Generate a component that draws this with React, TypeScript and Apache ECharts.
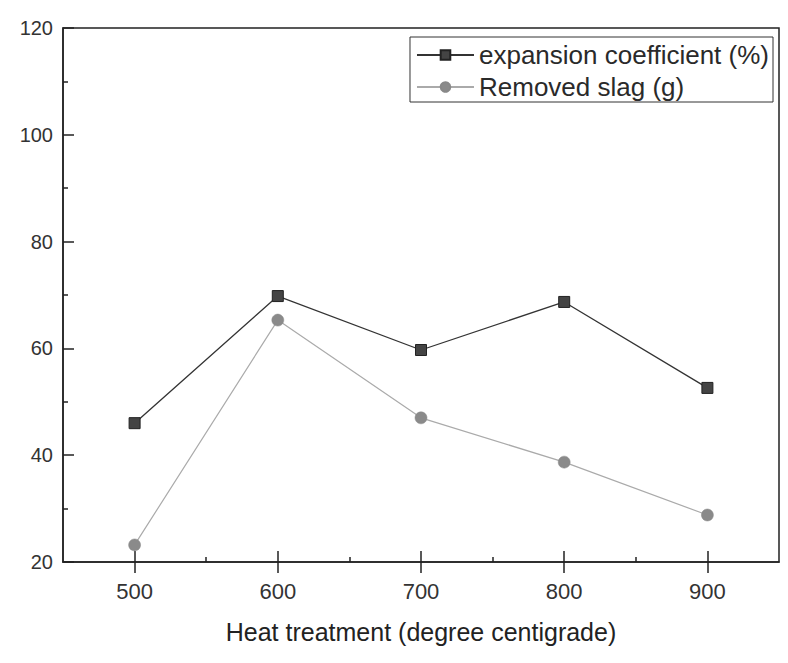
import React, { useEffect, useRef } from "react";
import * as echarts from "echarts";

const temperatures = [500, 600, 700, 800, 900];
const expansionCoefficient = [46.0, 69.8, 59.7, 68.7, 52.6];
const removedSlag = [23.2, 65.3, 47.0, 38.7, 28.8];
const majorTicks = [500, 600, 700, 800, 900];
const minorTicks = [550, 650, 750, 850];
const seriesNames = ["expansion coefficient (%)", "Removed slag (g)"];
const xAxisName = "Heat treatment (degree centigrade)";

export default function App() {
  const ref = useRef<HTMLDivElement>(null);
  useEffect(() => {
    if (!ref.current) return;
    const chart = echarts.init(ref.current, undefined, { renderer: "svg" });
    const font = "'Liberation Sans', Arial, sans-serif";
    const axisColor = "#222";
    const baseX = {
      type: "value",
      position: "bottom",
      min: 450,
      max: 950,
      interval: 50,
      splitLine: { show: false },
    };
    chart.setOption({
      animation: false,
      backgroundColor: "#fff",
      grid: {
        left: 63,
        right: 9,
        top: 28,
        bottom: 101,
        show: true,
        borderColor: axisColor,
        borderWidth: 1.5,
      },
      legend: {
        right: 15,
        top: 37,
        orient: "vertical",
        borderColor: "#333",
        borderWidth: 1,
        padding: [5, 4, 2, 6],
        itemGap: 6,
        itemWidth: 57,
        itemHeight: 12,
        textStyle: { fontFamily: font, fontSize: 26, color: "#2a2a2a" },
        data: seriesNames,
      },
      xAxis: [
        {
          ...baseX,
          name: xAxisName,
          nameLocation: "middle",
          nameGap: 57,
          nameTextStyle: { fontFamily: font, fontSize: 25, color: "#222" },
          axisLine: { show: true, onZero: false, lineStyle: { color: axisColor, width: 1.5 } },
          axisTick: {
            show: true,
            inside: true,
            length: 11,
            customValues: majorTicks,
            lineStyle: { color: axisColor, width: 1.5 },
          },
          axisLabel: {
            fontFamily: font,
            fontSize: 22,
            color: "#333",
            margin: 18,
            customValues: majorTicks,
          },
        },
        {
          ...baseX,
          axisLine: { show: false, onZero: false },
          axisTick: {
            show: true,
            inside: false,
            length: 11,
            customValues: majorTicks,
            lineStyle: { color: axisColor, width: 1.5 },
          },
          axisLabel: { show: false },
        },
        {
          ...baseX,
          axisLine: { show: false, onZero: false },
          axisTick: {
            show: true,
            inside: true,
            length: 5,
            customValues: minorTicks,
            lineStyle: { color: axisColor, width: 1.5 },
          },
          axisLabel: { show: false },
        },
      ],
      yAxis: {
        type: "value",
        min: 20,
        max: 120,
        interval: 20,
        axisLine: { show: true, onZero: false, lineStyle: { color: axisColor, width: 1.5 } },
        axisTick: { show: true, inside: true, length: 11, lineStyle: { color: axisColor, width: 1.5 } },
        minorTick: { show: true, splitNumber: 2, length: 5, lineStyle: { color: axisColor, width: 1.5 } },
        axisLabel: { fontFamily: font, fontSize: 20, color: "#333", margin: 10 },
        splitLine: { show: false },
      },
      series: [
        {
          name: seriesNames[0],
          type: "line",
          data: temperatures.map((t, i) => [t, expansionCoefficient[i]]),
          symbol: "rect",
          symbolSize: 11,
          lineStyle: { color: "#333", width: 1.3 },
          itemStyle: { color: "#444", borderColor: "#222", borderWidth: 1 },
        },
        {
          name: seriesNames[1],
          type: "line",
          data: temperatures.map((t, i) => [t, removedSlag[i]]),
          symbol: "circle",
          symbolSize: 12,
          lineStyle: { color: "#aaa", width: 1.2 },
          itemStyle: { color: "#8a8a8a", borderColor: "#888", borderWidth: 0.5 },
        },
      ],
    });
    return () => chart.dispose();
  }, []);
  return <div ref={ref} style={{ width: 788, height: 663, position: "absolute", left: 0, top: 0 }} />;
}
